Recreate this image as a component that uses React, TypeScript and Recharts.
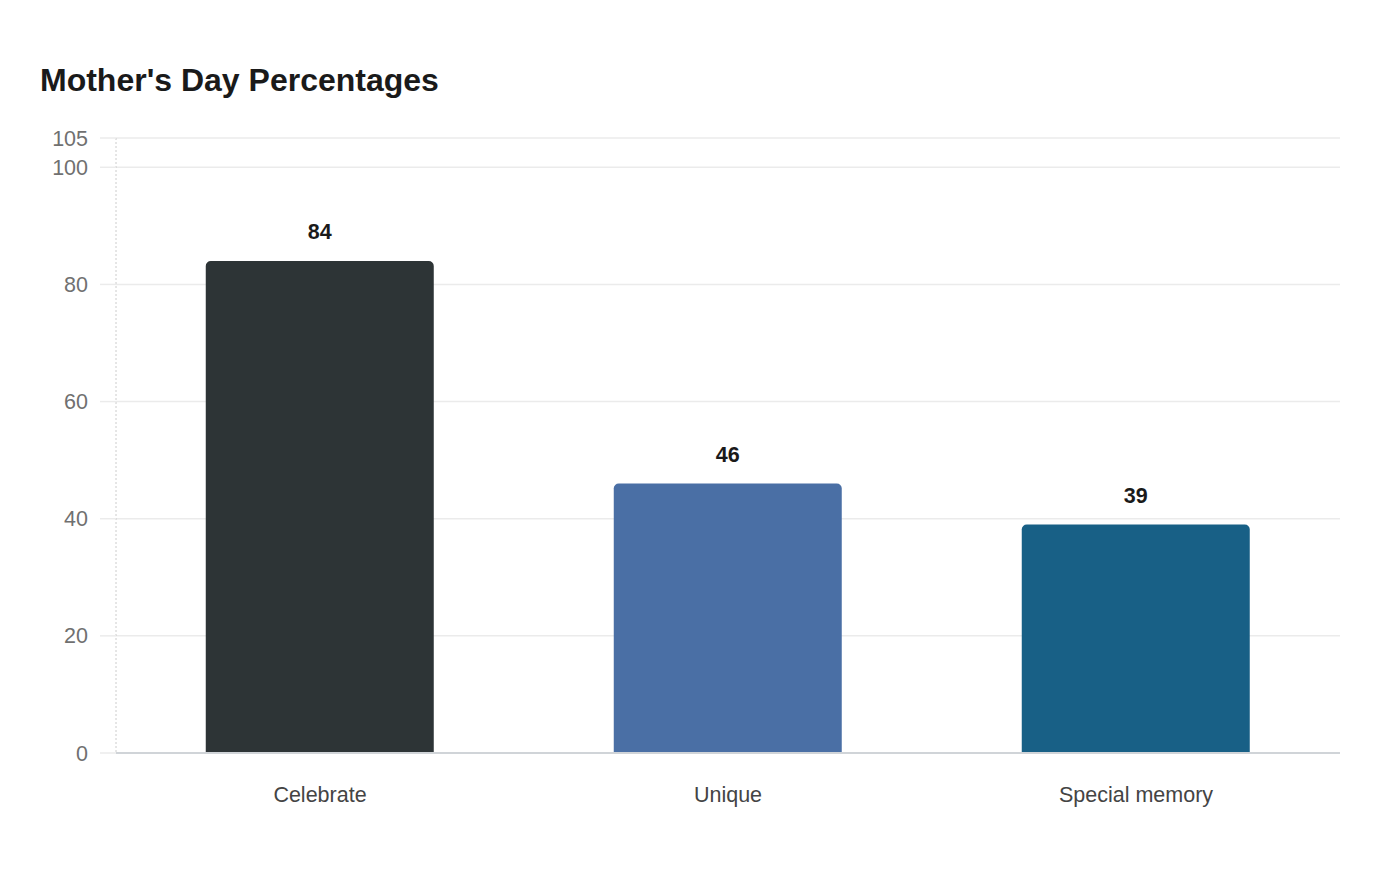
import React from 'react';
import { Bar, BarChart, CartesianGrid, Cell, LabelList, XAxis, YAxis } from 'recharts';

const categories = ['Celebrate', 'Unique', 'Special memory'];
const percentages = [84, 46, 39];
const barColors = ['#2d3436', '#4a6fa5', '#186086'];
const yTicks = [0, 20, 40, 60, 80, 100, 105];

const FONT = '"Liberation Sans", Arial, sans-serif';

const data = categories.map((label, i) => ({ label, value: percentages[i] }));

export default function App() {
  return (
    <div
      style={{
        position: 'absolute',
        left: 0,
        top: 0,
        width: 1400,
        height: 880,
        background: '#ffffff',
        fontFamily: FONT,
      }}
    >
      <div
        style={{
          position: 'absolute',
          left: 40,
          top: 62,
          fontSize: 32,
          fontWeight: 700,
          color: '#1a1a1a',
          lineHeight: 'normal',
          whiteSpace: 'nowrap',
        }}
      >
        Mother's Day Percentages
      </div>
      <BarChart
        width={1400}
        height={880}
        data={data}
        margin={{ top: 138, right: 60, bottom: 67, left: 0 }}
        barCategoryGap="22%"
        style={{ position: 'absolute', left: 0, top: 0, fontFamily: FONT }}
      >
        <CartesianGrid vertical={false} stroke="#ebebeb" strokeWidth={1.5} />
        <YAxis
          type="number"
          domain={[0, 105]}
          ticks={yTicks}
          interval={0}
          width={116}
          axisLine={{ stroke: '#cccccc', strokeDasharray: '2 2' }}
          tickLine={{ stroke: '#ebebeb', strokeWidth: 1.5 }}
          tickSize={16}
          tickMargin={12}
          tick={{ fill: '#707070', fontSize: 21.5, fontFamily: FONT }}
        />
        <XAxis
          dataKey="label"
          height={60}
          axisLine={{ stroke: '#d0d4d8', strokeWidth: 2 }}
          tickLine={false}
          tickSize={0}
          tickMargin={34}
          tick={{ fill: '#444444', fontSize: 21.5, fontFamily: FONT }}
        />
        <Bar dataKey="value" radius={[5, 5, 0, 0]} isAnimationActive={false}>
          {data.map((_, i) => (
            <Cell key={i} fill={barColors[i]} />
          ))}
          <LabelList
            dataKey="value"
            position="top"
            offset={22}
            fill="#1a1a1a"
            fontSize={21.5}
            fontWeight={700}
            fontFamily={FONT}
          />
        </Bar>
      </BarChart>
    </div>
  );
}
